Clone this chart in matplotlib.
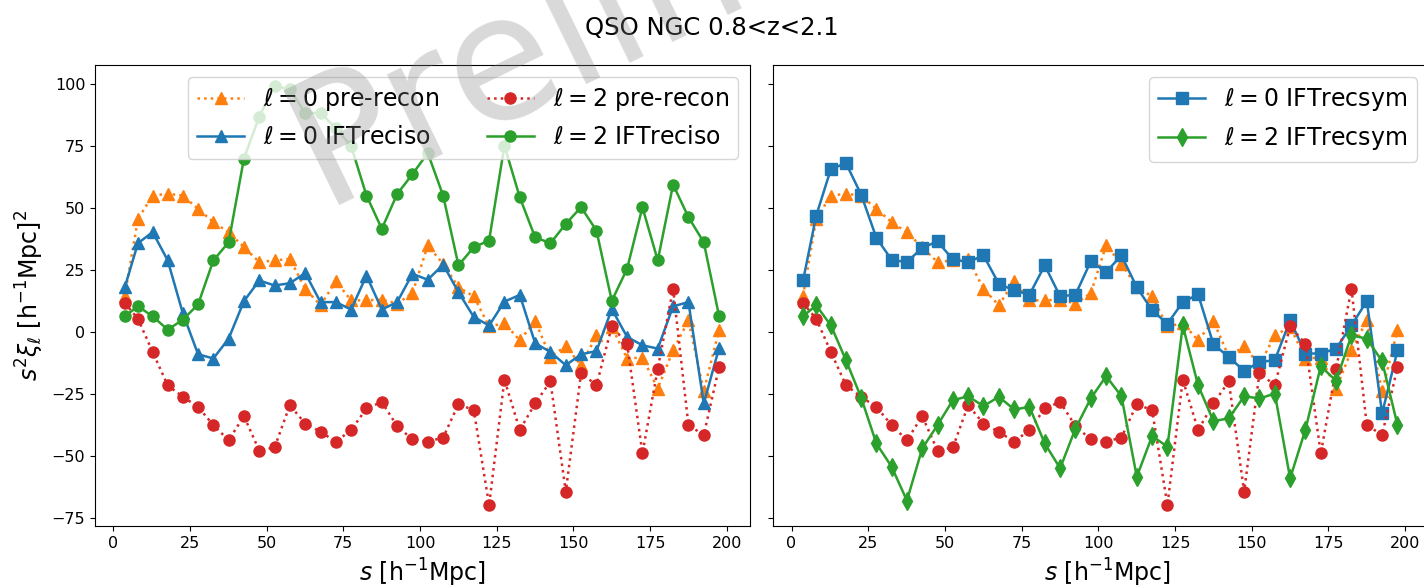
import numpy as np
import matplotlib
matplotlib.use("Agg")
import matplotlib.pyplot as plt

# pair-weighted bin centres [h^-1 Mpc]
s = [3.75, 8.04, 12.83, 17.74, 22.68, 27.65, 32.63, 37.61, 42.60, 47.59,
     52.58, 57.57, 62.57, 67.56, 72.56, 77.55, 82.55, 87.55, 92.55, 97.54,
     102.54, 107.54, 112.54, 117.54, 122.53, 127.53, 132.53, 137.53, 142.53, 147.53,
     152.53, 157.53, 162.53, 167.52, 172.52, 177.52, 182.52, 187.52, 192.52, 197.52]

# s^2 xi_l for the pre-reconstruction catalogue
xi0_pre = [14.5, 45.5, 54.9, 55.6, 54.9, 49.5, 44.2, 40.1, 34.1, 28.1,
           28.8, 29.4, 17.4, 10.7, 20.4, 12.7, 12.7, 13.0, 11.4, 15.6,
           34.8, 27.4, 18.0, 14.3, 2.2, 3.5, -3.4, 4.4, -10.0, -5.8,
           -13.4, -1.4, 2.0, -10.7, -10.3, -22.8, -7.4, 4.6, -23.8, 0.8]
xi2_pre = [11.6, 5.3, -8.1, -21.5, -26.1, -30.2, -37.5, -43.6, -33.9, -47.8,
           -46.5, -29.5, -36.9, -40.2, -44.2, -39.5, -30.8, -28.2, -37.9, -43.3,
           -44.2, -42.5, -29.1, -31.5, -69.7, -19.2, -39.5, -28.8, -19.9, -64.3,
           -16.5, -21.5, 2.2, -4.7, -48.9, -14.8, 17.4, -37.5, -41.5, -14.1]

# isotropic IFT reconstruction
xi0_iso = [18.0, 35.7, 40.2, 28.8, 7.5, -9.0, -10.7, -2.7, 12.4, 20.7,
           18.7, 19.6, 23.7, 12.0, 12.0, 9.0, 22.7, 9.0, 12.0, 23.4,
           21.0, 27.1, 16.0, 6.0, 2.6, 12.2, 14.9, -4.5, -8.1, -13.4,
           -9.0, -7.7, 9.2, -2.0, -5.4, -6.7, 10.3, 12.0, -28.8, -6.4]
xi2_iso = [6.3, 10.3, 6.3, 0.9, 4.9, 11.1, 28.8, 36.1, 69.8, 86.7,
           99.0, 97.6, 88.2, 88.2, 82.0, 74.8, 54.9, 41.5, 55.5, 63.5,
           72.0, 54.9, 26.8, 34.1, 36.8, 75.0, 54.2, 38.1, 35.7, 43.5,
           50.2, 40.8, 12.5, 25.4, 50.2, 28.8, 59.3, 46.2, 36.1, 6.3]

# symmetric IFT reconstruction
xi0_sym = [20.7, 46.8, 65.6, 67.9, 55.3, 37.9, 29.0, 28.1, 33.9, 36.4,
           29.2, 28.1, 30.8, 19.4, 16.7, 15.0, 26.8, 14.3, 15.0, 28.4,
           24.1, 30.8, 18.0, 8.7, 3.3, 12.0, 15.1, -5.0, -10.1, -15.7,
           -12.1, -11.4, 4.7, -8.7, -8.7, -6.7, 2.6, 12.4, -32.8, -7.4]
xi2_sym = [6.3, 10.7, 2.6, -11.4, -26.4, -44.9, -54.3, -67.9, -46.9, -37.5,
           -27.5, -25.9, -29.9, -26.1, -31.2, -30.2, -44.9, -54.9, -38.9, -26.8,
           -17.8, -25.9, -58.3, -41.9, -46.2, 2.6, -21.5, -35.9, -34.8, -25.9,
           -26.8, -24.8, -58.9, -39.3, -13.8, -19.7, -1.4, -2.7, -11.8, -37.5]

C0, C1, C2, C3 = "#1f77b4", "#ff7f0e", "#2ca02c", "#d62728"
ms = 8
lw = 1.8

fig = plt.figure(figsize=(14.24, 5.88), dpi=100)
ax1 = fig.add_axes([0.0667, 0.1054, 0.46, 0.784])
# right panel runs slightly past the canvas edge
ax2 = fig.add_axes([0.543, 0.1054, 0.47, 0.784], sharey=ax1)

ax1.plot(s, xi0_pre, ":^", color=C1, ms=ms, lw=lw, label=r"$\ell=0$ pre-recon")
ax1.plot(s, xi0_iso, "-^", color=C0, ms=ms, lw=lw, label=r"$\ell=0$ IFTreciso")
ax1.plot(s, xi2_pre, ":o", color=C3, ms=ms, lw=lw, label=r"$\ell=2$ pre-recon")
ax1.plot(s, xi2_iso, "-o", color=C2, ms=ms, lw=lw, label=r"$\ell=2$ IFTreciso")
ax1.legend(loc="upper right", ncol=2, fontsize=17)

ax2.plot(s, xi0_pre, ":^", color=C1, ms=ms, lw=lw)
ax2.plot(s, xi0_sym, "-s", color=C0, ms=ms, lw=lw, label=r"$\ell=0$ IFTrecsym")
ax2.plot(s, xi2_pre, ":o", color=C3, ms=ms, lw=lw)
ax2.plot(s, xi2_sym, "-d", color=C2, ms=ms + 1, lw=lw, label=r"$\ell=2$ IFTrecsym")
ax2.legend(loc="upper right", bbox_to_anchor=(0.9795, 1.0), fontsize=17)

for ax in (ax1, ax2):
    ax.set_xticks([0, 25, 50, 75, 100, 125, 150, 175, 200])
    ax.set_xlabel(r"$s$ [h$^{-1}$Mpc]", fontsize=17)
    ax.tick_params(labelsize=11.5)
ax1.set_xlim(-5.97, 207.6)
ax2.set_xlim(-5.97, 212.2)
ax1.set_yticks([-75, -50, -25, 0, 25, 50, 75, 100])
ax1.set_ylabel(r"$s^2\xi_\ell$ [h$^{-1}$Mpc]$^2$", fontsize=17)
plt.setp(ax2.get_yticklabels(), visible=False)

fig.suptitle("QSO NGC 0.8<z<2.1", fontsize=17.5, y=0.972)

fig.text(0.226, 0.652, "Preliminary", fontsize=125, color="gray", alpha=0.3,
         rotation=26, rotation_mode="anchor", ha="left", va="baseline", zorder=20)

fig.savefig("out.png", dpi=100)
